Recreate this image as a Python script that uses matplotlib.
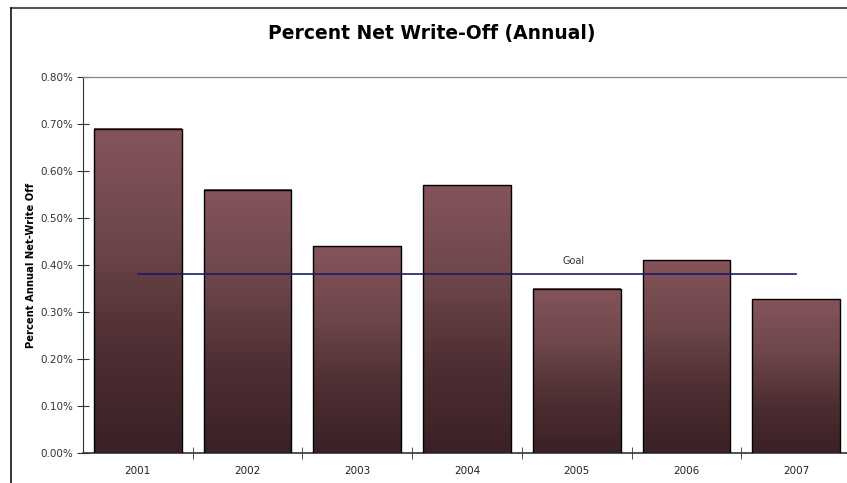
import numpy as np
import matplotlib
matplotlib.use('Agg')
import matplotlib.pyplot as plt
from matplotlib.colors import LinearSegmentedColormap
from matplotlib.ticker import FuncFormatter, FixedLocator
from matplotlib.lines import Line2D

years = ['2001', '2002', '2003', '2004', '2005', '2006', '2007']
write_off = [0.69, 0.56, 0.44, 0.57, 0.35, 0.41, 0.327]   # percent
goal = 0.38

plt.rcParams['font.family'] = ['DejaVu Sans']

fig = plt.figure(figsize=(8.47, 4.83), dpi=100)
fig.patch.set_facecolor('white')

# outer chart frame (Excel chart area border)
fig.add_artist(Line2D([10.7 / 847, 1.0], [1 - 7.5 / 483, 1 - 7.5 / 483],
                      transform=fig.transFigure, color='#555555', lw=1.5))
fig.add_artist(Line2D([10.7 / 847, 10.7 / 847], [0.0, 1 - 7.5 / 483],
                      transform=fig.transFigure, color='#111111', lw=1.2))

ax = fig.add_axes([83 / 847, 30 / 483, 768 / 847, 376 / 483])
x = np.arange(len(years))
bar_w = 0.8

cmap = LinearSegmentedColormap.from_list('wine', ['#3a2125', '#4e2f33', '#6e474b', '#85545a'])
grad = np.linspace(0, 1, 256).reshape(-1, 1)
bars = ax.bar(x, write_off, width=bar_w, facecolor='none', edgecolor='black', linewidth=1.0, zorder=3)
for b in bars:
    x0, w, h = b.get_x(), b.get_width(), b.get_height()
    ax.imshow(grad, cmap=cmap, aspect='auto', origin='lower',
              extent=(x0, x0 + w, 0, h), zorder=2)

# goal line from first to last category centre
ax.plot([x[0], x[-1]], [goal, goal], color='#1c1c6b', lw=1.2, zorder=4)
ax.text(3.97, goal + 0.018, 'Goal', fontsize=7, color='#333333', ha='center', va='bottom', zorder=5)

ax.set_xlim(-0.5, len(years) - 0.5)
ax.set_ylim(0, 0.8)
ax.yaxis.set_major_locator(FixedLocator(np.arange(0, 0.81, 0.1)))
ax.yaxis.set_major_formatter(FuncFormatter(lambda v, p: f'{v:.2f}%'))
ax.set_xticks(x)
ax.set_xticklabels(years)
ax.set_xticks(np.arange(0.5, len(years) - 0.5, 1.0), minor=True)
ax.tick_params(axis='x', which='major', length=0, labelsize=7.5, labelcolor='#222222', pad=9)
ax.tick_params(axis='x', which='minor', direction='inout', length=8, color='#333333')
ax.tick_params(axis='y', direction='inout', length=8, labelsize=7.5, labelcolor='#333333', color='#333333', pad=3)

ax.spines['right'].set_visible(False)
ax.spines['top'].set_color('#888888')
ax.spines['top'].set_linewidth(0.9)
ax.spines['left'].set_color('#333333')
ax.spines['bottom'].set_color('#333333')
ax.spines['bottom'].set_linewidth(1.2)
ax.set_facecolor('white')

ax.set_ylabel('Percent Annual Net-Write Off', fontsize=7.2, fontweight='bold', labelpad=3)
fig.text(432 / 847, 1 - 34 / 483, 'Percent Net Write-Off (Annual)', fontsize=13.5,
         fontweight='bold', ha='center', va='center')

fig.savefig('out.png', dpi=100, facecolor='white')
